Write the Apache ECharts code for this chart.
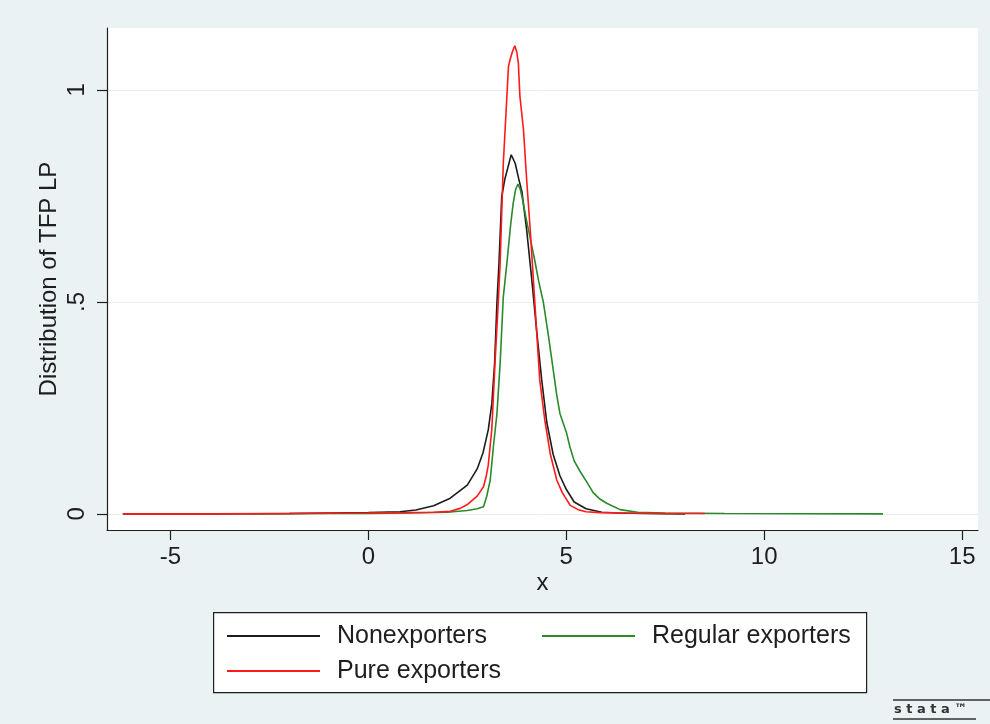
<!DOCTYPE html>
<html>
<head>
<meta charset="utf-8">
<script src="https://cdn.jsdelivr.net/npm/echarts@6/dist/echarts.min.js"></script>
<style>
  html, body { margin: 0; padding: 0; background: #EAF2F3; }
  #chart { width: 990px; height: 724px; }
</style>
</head>
<body>
<div id="chart"></div>
<script>
// ---- Data ----
const seriesNames = ['Nonexporters', 'Regular exporters', 'Pure exporters'];

const nonexpX = [-6.2, -4, -2, -1, 0, 0.8, 1.2, 1.65, 2.07, 2.5, 2.75, 2.9, 3.03, 3.12, 3.19, 3.25, 3.3, 3.37, 3.45, 3.52, 3.61, 3.71, 3.8, 3.88, 4.0, 4.13, 4.25, 4.38, 4.51, 4.67, 4.84, 5.0, 5.2, 5.5, 5.9, 6.3, 7, 8];
const nonexpY = [0, 0, 0.001, 0.002, 0.003, 0.005, 0.009, 0.019, 0.037, 0.068, 0.106, 0.145, 0.198, 0.26, 0.355, 0.5, 0.59, 0.748, 0.79, 0.815, 0.847, 0.827, 0.79, 0.76, 0.67, 0.552, 0.434, 0.316, 0.215, 0.14, 0.09, 0.058, 0.028, 0.012, 0.004, 0.002, 0.001, 0];

const regularX = [-3, -1, 0, 1, 2, 2.5, 2.75, 2.91, 2.99, 3.08, 3.16, 3.25, 3.33, 3.41, 3.5, 3.6, 3.66, 3.72, 3.78, 3.84, 3.9, 3.98, 4.09, 4.2, 4.3, 4.42, 4.55, 4.67, 4.76, 4.84, 5.01, 5.09, 5.2, 5.35, 5.52, 5.68, 5.85, 6.02, 6.36, 6.8, 7.5, 9, 11, 13];
const regularY = [0, 0.001, 0.001, 0.002, 0.004, 0.008, 0.012, 0.017, 0.041, 0.08, 0.159, 0.237, 0.355, 0.512, 0.591, 0.686, 0.733, 0.765, 0.778, 0.765, 0.74, 0.70, 0.65, 0.6, 0.55, 0.5, 0.42, 0.34, 0.28, 0.237, 0.19, 0.159, 0.125, 0.1, 0.075, 0.05, 0.035, 0.025, 0.01, 0.004, 0.002, 0.001, 0.0005, 0];

const pureX = [-6.2, -4, -2, 0, 1, 1.65, 2.07, 2.32, 2.5, 2.75, 2.91, 2.98, 3.03, 3.12, 3.2, 3.29, 3.33, 3.41, 3.5, 3.54, 3.58, 3.64, 3.7, 3.75, 3.79, 3.83, 3.92, 4.0, 4.09, 4.17, 4.25, 4.33, 4.46, 4.6, 4.76, 4.9, 5.1, 5.3, 5.5, 5.85, 6.5, 7.5, 8.5];
const pureY = [0, 0, 0.001, 0.002, 0.003, 0.004, 0.006, 0.013, 0.022, 0.042, 0.064, 0.09, 0.115, 0.2, 0.355, 0.512, 0.591, 0.827, 0.984, 1.055, 1.071, 1.09, 1.104, 1.09, 1.063, 0.984, 0.906, 0.788, 0.67, 0.552, 0.434, 0.316, 0.22, 0.14, 0.08, 0.05, 0.02, 0.01, 0.005, 0.003, 0.002, 0.001, 0.001];

const xTicks = [-5, 0, 5, 10, 15];
const xTickLabels = ['-5', '0', '5', '10', '15'];
const yTicks = [0, 0.5, 1];
const yTickLabels = ['0', '.5', '1'];

const xTitle = 'x';
const yTitle = 'Distribution of TFP LP';

// ---- Chart ----
const pairs = (xs, ys) => xs.map((x, i) => [x, ys[i]]);
const FONT = '"Liberation Sans", Arial, sans-serif';
const AXIS_COLOR = '#1e1e1e';

const chart = echarts.init(document.getElementById('chart'), null, { renderer: 'canvas' });

const lineSeries = (name, data, color) => ({
  name, type: 'line', data,
  showSymbol: false, symbol: 'none', smooth: false,
  lineStyle: { color, width: 1.6 },
  itemStyle: { color },
  emphasis: { disabled: true },
  z: 3
});

const legendCommon = {
  orient: 'vertical', top: 623, padding: 0,
  icon: 'rect', itemWidth: 93, itemHeight: 2, itemGap: 9,
  textStyle: { fontSize: 25, color: AXIS_COLOR, fontFamily: FONT, padding: [0, 0, 0, 12], lineHeight: 26 },
  selectedMode: false
};

chart.setOption({
  animation: false,
  backgroundColor: '#EAF2F3',
  textStyle: { fontFamily: FONT },
  grid: {
    left: 107, right: 12, top: 28, bottom: 194,
    show: true, backgroundColor: '#ffffff', borderWidth: 0
  },
  xAxis: {
    type: 'value', min: -6.6, max: 15.4,
    name: xTitle, nameLocation: 'middle', nameGap: 41, nameMoveOverlap: false,
    nameTextStyle: { fontSize: 24, color: AXIS_COLOR, fontFamily: FONT },
    axisLine: { show: true, onZero: false, lineStyle: { color: AXIS_COLOR, width: 1.2 } },
    axisTick: { show: true, length: 10, customValues: xTicks, lineStyle: { color: AXIS_COLOR, width: 1.2 } },
    axisLabel: {
      customValues: xTicks, fontSize: 24, color: AXIS_COLOR, margin: 15, fontFamily: FONT,
      formatter: v => { const i = xTicks.indexOf(v); return i >= 0 ? xTickLabels[i] : ''; }
    },
    splitLine: { show: false }
  },
  yAxis: {
    type: 'value', min: -0.038, max: 1.146,
    name: yTitle, nameLocation: 'middle', nameGap: 46, nameRotate: 90, nameMoveOverlap: false,
    nameTextStyle: { fontSize: 24, color: AXIS_COLOR, fontFamily: FONT },
    axisLine: { show: true, onZero: false, lineStyle: { color: AXIS_COLOR, width: 1.2 } },
    axisTick: { show: true, length: 10, customValues: yTicks, lineStyle: { color: AXIS_COLOR, width: 1.2 } },
    axisLabel: {
      customValues: yTicks, fontSize: 24, color: AXIS_COLOR, margin: 18, rotate: 90, fontFamily: FONT,
      formatter: v => { const i = yTicks.findIndex(t => Math.abs(t - v) < 1e-9); return i >= 0 ? yTickLabels[i] : ''; }
    },
    splitLine: { show: true, lineStyle: { color: '#E9EFF1', width: 1 } }
  },
  legend: [
    Object.assign({}, legendCommon, { data: [seriesNames[0], seriesNames[2]], left: 227 }),
    Object.assign({}, legendCommon, { data: [seriesNames[1]], left: 542 })
  ],
  graphic: [
    {
      type: 'rect', left: 213, top: 612, z: -1,
      shape: { width: 653, height: 80 },
      style: { fill: '#ffffff', stroke: '#1e1e1e', lineWidth: 1.2 }
    },
    {
      type: 'line', z: 10,
      shape: { x1: 893, y1: 700, x2: 990, y2: 700 },
      style: { stroke: '#333', lineWidth: 1.5 }
    },
    {
      type: 'line', z: 10,
      shape: { x1: 893, y1: 719, x2: 976, y2: 719 },
      style: { stroke: '#333', lineWidth: 1.5 }
    },
    {
      type: 'text', left: 894, top: 703, z: 10,
      style: { text: 's t a t a ™', fill: '#333', font: 'bold 13px "DejaVu Sans", sans-serif' }
    }
  ],
  series: [
    lineSeries(seriesNames[0], pairs(nonexpX, nonexpY), '#1c1c1c'),
    lineSeries(seriesNames[1], pairs(regularX, regularY), '#2a8a2a'),
    lineSeries(seriesNames[2], pairs(pureX, pureY), '#ff1a1a')
  ]
});
</script>
</body>
</html>
